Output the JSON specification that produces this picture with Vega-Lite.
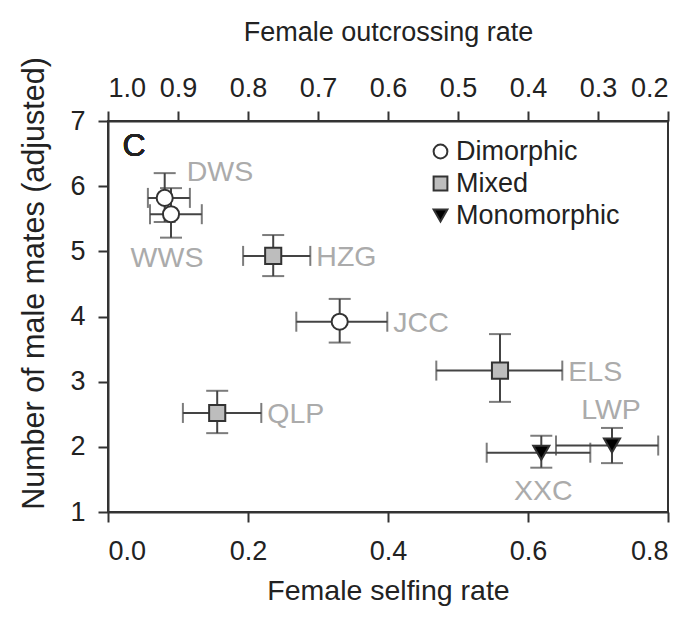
{
  "$schema": "https://vega.github.io/schema/vega-lite/v6.json",
  "width": 560,
  "height": 391,
  "autosize": {"type": "none"},
  "padding": {"left": 108, "top": 121, "right": 22, "bottom": 116},
  "background": "white",
  "config": {
    "font": "Liberation Sans",
    "view": {"stroke": "#333", "strokeWidth": 2},
    "axis": {
      "grid": false,
      "domainColor": "#333",
      "domainWidth": 2,
      "tickColor": "#333",
      "tickWidth": 2,
      "tickSize": 10,
      "labelFontSize": 27,
      "labelColor": "#222",
      "titleFontSize": 27,
      "titleFontWeight": "normal",
      "titleColor": "#222",
      "labelFont": "Liberation Sans",
      "titleFont": "Liberation Sans"
    },
    "legend": {
      "orient": "none", "legendX": 319, "legendY": 17,
      "labelFontSize": 27, "labelColor": "#222", "labelFont": "Liberation Sans", "labelLimit": 400,
      "symbolSize": 190, "symbolStrokeWidth": 2,
      "labelOffset": 2, "rowPadding": 4, "padding": 0
    }
  },
  "datasets": {
    "pops": [
      {"name": "DWS", "type": "Dimorphic", "x": 0.081, "y": 5.82, "xlo": 0.057, "xhi": 0.117, "ylo": 5.45, "yhi": 6.2},
      {"name": "WWS", "type": "Dimorphic", "x": 0.09, "y": 5.57, "xlo": 0.06, "xhi": 0.134, "ylo": 5.21, "yhi": 5.97},
      {"name": "HZG", "type": "Mixed", "x": 0.236, "y": 4.93, "xlo": 0.193, "xhi": 0.289, "ylo": 4.62, "yhi": 5.25},
      {"name": "JCC", "type": "Dimorphic", "x": 0.331, "y": 3.92, "xlo": 0.269, "xhi": 0.399, "ylo": 3.6, "yhi": 4.27},
      {"name": "QLP", "type": "Mixed", "x": 0.156, "y": 2.52, "xlo": 0.107, "xhi": 0.219, "ylo": 2.21, "yhi": 2.86},
      {"name": "ELS", "type": "Mixed", "x": 0.56, "y": 3.17, "xlo": 0.469, "xhi": 0.649, "ylo": 2.69, "yhi": 3.73},
      {"name": "XXC", "type": "Monomorphic", "x": 0.619, "y": 1.91, "xlo": 0.541, "xhi": 0.689, "ylo": 1.68, "yhi": 2.17},
      {"name": "LWP", "type": "Monomorphic", "x": 0.72, "y": 2.02, "xlo": 0.64, "xhi": 0.786, "ylo": 1.75, "yhi": 2.29}
    ],
    "topaxis": [{"o": 1.0}, {"o": 0.2}]
  },
  "resolve": {"scale": {"x": "independent"}, "axis": {"x": "independent"}},
  "layer": [
    {
      "data": {"name": "pops"},
      "encoding": {
        "y": {
          "field": "y", "type": "quantitative",
          "scale": {"domain": [1, 7], "nice": false, "zero": false},
          "axis": {"title": "Number of male mates (adjusted)", "titleFontSize": 30.5, "values": [1, 2, 3, 4, 5, 6, 7], "labelPadding": 13, "titlePadding": 20, "titleY": 162}
        }
      },
      "layer": [
        {
          "mark": {"type": "rule", "color": "#444", "strokeWidth": 2},
          "encoding": {
            "x": {
              "field": "x", "type": "quantitative",
              "scale": {"domain": [0, 0.8], "nice": false, "zero": false},
              "axis": {"title": "Female selfing rate", "titleFontSize": 28.5, "values": [0, 0.2, 0.4, 0.6, 0.8], "format": ".1f", "labelPadding": 16, "titlePadding": 12}
            },
            "y": {"field": "ylo", "type": "quantitative"},
            "y2": {"field": "yhi"}
          }
        },
        {
          "mark": {"type": "rule", "color": "#444", "strokeWidth": 2},
          "encoding": {
            "x": {"field": "xlo", "type": "quantitative"},
            "x2": {"field": "xhi"},
            "y": {"field": "y", "type": "quantitative"}
          }
        },
        {
          "mark": {"type": "tick", "orient": "horizontal", "color": "#444", "size": 22, "thickness": 2},
          "encoding": {"x": {"field": "x", "type": "quantitative"}, "y": {"field": "ylo", "type": "quantitative"}}
        },
        {
          "mark": {"type": "tick", "orient": "horizontal", "color": "#444", "size": 22, "thickness": 2},
          "encoding": {"x": {"field": "x", "type": "quantitative"}, "y": {"field": "yhi", "type": "quantitative"}}
        },
        {
          "mark": {"type": "tick", "orient": "vertical", "color": "#444", "size": 20, "thickness": 2},
          "encoding": {"x": {"field": "xlo", "type": "quantitative"}, "y": {"field": "y", "type": "quantitative"}}
        },
        {
          "mark": {"type": "tick", "orient": "vertical", "color": "#444", "size": 20, "thickness": 2},
          "encoding": {"x": {"field": "xhi", "type": "quantitative"}, "y": {"field": "y", "type": "quantitative"}}
        },
        {
          "mark": {"type": "point", "filled": true, "opacity": 1, "strokeWidth": 2, "size": 260},
          "encoding": {
            "x": {"field": "x", "type": "quantitative"},
            "y": {"field": "y", "type": "quantitative"},
            "shape": {
              "field": "type", "type": "nominal",
              "scale": {"domain": ["Dimorphic", "Mixed", "Monomorphic"], "range": ["circle", "square", "triangle-down"]},
              "legend": {"title": null}
            },
            "fill": {
              "field": "type", "type": "nominal",
              "scale": {"domain": ["Dimorphic", "Mixed", "Monomorphic"], "range": ["white", "#bdbdbd", "black"]},
              "legend": {"title": null}
            },
            "stroke": {
              "field": "type", "type": "nominal",
              "scale": {"domain": ["Dimorphic", "Mixed", "Monomorphic"], "range": ["#333", "#333", "#333"]},
              "legend": {"title": null}
            }
          }
        },
        {
          "transform": [{"filter": {"field": "name", "oneOf": ["HZG", "JCC", "QLP", "ELS"]}}],
          "mark": {"type": "text", "align": "left", "baseline": "middle", "dx": 6, "dy": 1, "fontSize": 28.5, "color": "#ababab"},
          "encoding": {"x": {"field": "xhi", "type": "quantitative"}, "y": {"field": "y", "type": "quantitative"}, "text": {"field": "name"}}
        },
        {
          "transform": [{"filter": {"field": "name", "equal": "DWS"}}],
          "mark": {"type": "text", "align": "left", "baseline": "middle", "dx": 22, "dy": -26, "fontSize": 28.5, "color": "#ababab"},
          "encoding": {"x": {"field": "x", "type": "quantitative"}, "y": {"field": "y", "type": "quantitative"}, "text": {"field": "name"}}
        },
        {
          "transform": [{"filter": {"field": "name", "equal": "WWS"}}],
          "mark": {"type": "text", "align": "center", "baseline": "middle", "dx": -4, "dy": 44, "fontSize": 28.5, "color": "#ababab"},
          "encoding": {"x": {"field": "x", "type": "quantitative"}, "y": {"field": "y", "type": "quantitative"}, "text": {"field": "name"}}
        },
        {
          "transform": [{"filter": {"field": "name", "equal": "LWP"}}],
          "mark": {"type": "text", "align": "center", "baseline": "middle", "dx": -1, "dy": -36, "fontSize": 28.5, "color": "#ababab"},
          "encoding": {"x": {"field": "x", "type": "quantitative"}, "y": {"field": "y", "type": "quantitative"}, "text": {"field": "name"}}
        },
        {
          "transform": [{"filter": {"field": "name", "equal": "XXC"}}],
          "mark": {"type": "text", "align": "center", "baseline": "middle", "dx": 2, "dy": 38, "fontSize": 28.5, "color": "#ababab"},
          "encoding": {"x": {"field": "x", "type": "quantitative"}, "y": {"field": "y", "type": "quantitative"}, "text": {"field": "name"}}
        },
        {
          "mark": {"type": "text", "text": "C", "align": "center", "baseline": "middle", "dx": 26, "dy": 25, "fontSize": 32, "color": "#222"},
          "encoding": {"x": {"datum": 0, "type": "quantitative"}, "y": {"datum": 7, "type": "quantitative"}}
        }
      ]
    },
    {
      "data": {"name": "topaxis"},
      "mark": {"type": "point", "opacity": 0},
      "encoding": {
        "x": {
          "field": "o", "type": "quantitative",
          "scale": {"domain": [0.2, 1.0], "reverse": true, "nice": false, "zero": false},
          "axis": {"orient": "top", "title": "Female outcrossing rate", "values": [1.0, 0.9, 0.8, 0.7, 0.6, 0.5, 0.4, 0.3, 0.2], "format": ".1f", "labelPadding": 9, "titlePadding": 28}
        }
      }
    }
  ]
}
